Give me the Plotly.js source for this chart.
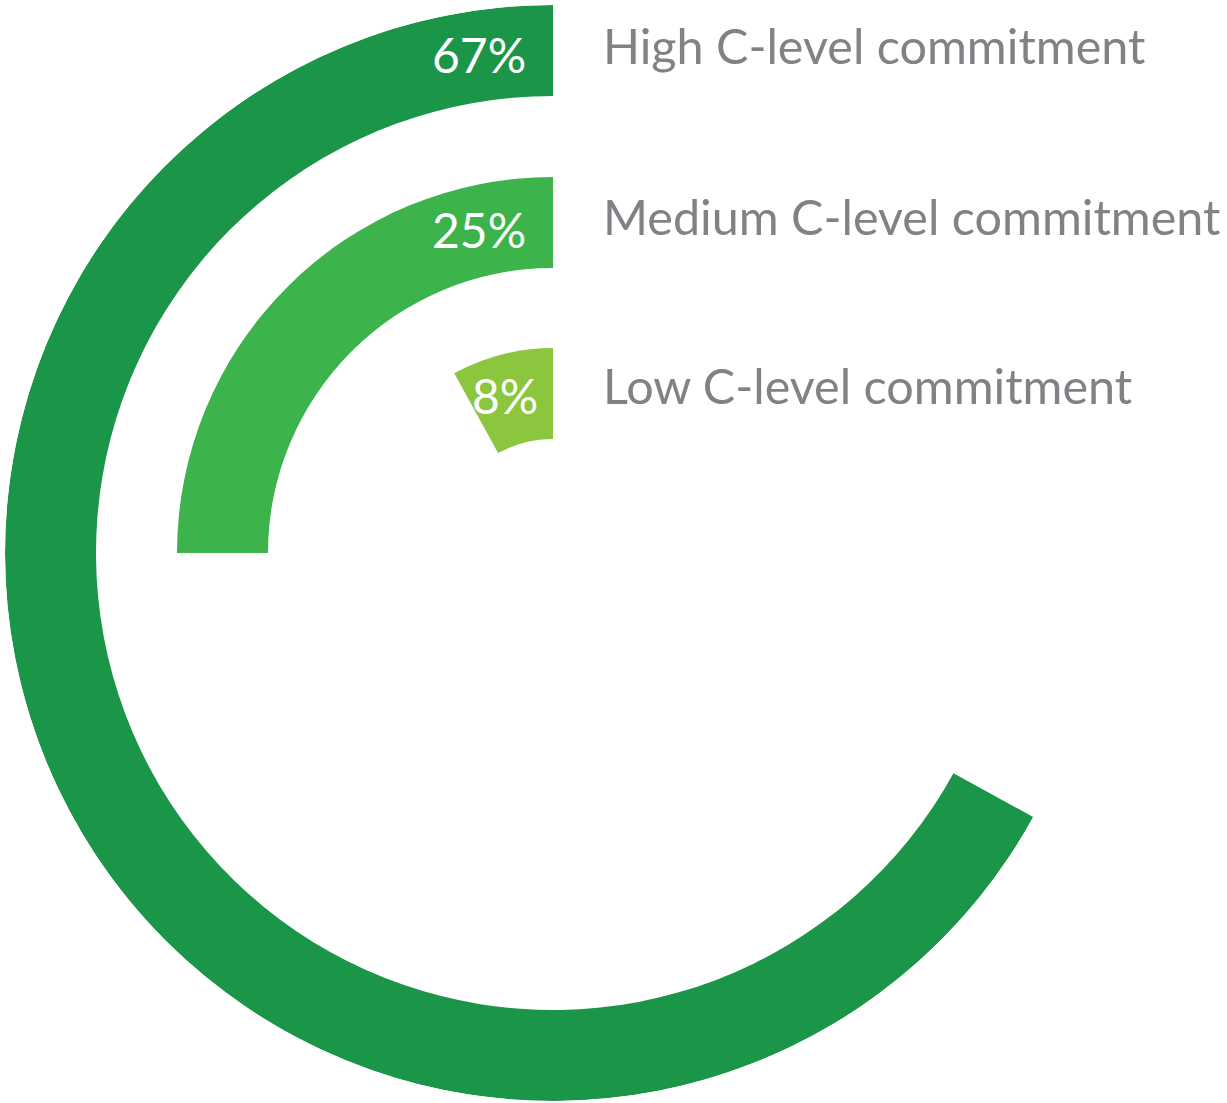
<!DOCTYPE html>
<html>
<head>
<meta charset="utf-8">
<script src="https://cdn.plot.ly/plotly-3.0.1.min.js"></script>
<style>html,body{margin:0;padding:0;background:#fff;}#chart{width:1227px;height:1103px;}</style>
</head>
<body>
<div id="chart"></div>
<script>
// Data
const categories = ["High C-level commitment", "Medium C-level commitment", "Low C-level commitment"];
const values = [67, 25, 8];
const valueLabels = ["67%", "25%", "8%"];
const colors = ["#1b9648", "#3cb44b", "#8cc63f"];

// Geometry (radial axis in px-like units)
const R = 548;
const ringBase = [457, 285, 114];
const ringThick = 91;
const degPerPct = 3.6;

const W = 1227, H = 1103;
const cx = 553, cy = 553;

const traces = categories.map((c, i) => ({
  type: 'barpolar',
  name: c,
  base: [ringBase[i]],
  r: [ringThick],
  theta: [values[i] * degPerPct / 2],
  width: [values[i] * degPerPct],
  marker: {color: colors[i], line: {width: 0}},
  hoverinfo: 'skip'
}));

const pctX = [528, 528, 540];
const pctY = [55, 230, 396];
const labY = [45, 216, 385];
const annotations = [];
categories.forEach((c, i) => {
  annotations.push({
    xref: 'paper', yref: 'paper', x: pctX[i] / W, y: 1 - pctY[i] / H,
    xanchor: 'right', yanchor: 'middle', showarrow: false,
    text: valueLabels[i],
    font: {family: 'Lato, "Open Sans", sans-serif', size: 48, color: '#ffffff'}
  });
  annotations.push({
    xref: 'paper', yref: 'paper', x: 601 / W, y: 1 - labY[i] / H,
    xanchor: 'left', yanchor: 'middle', showarrow: false,
    text: c,
    font: {family: 'Lato, "Open Sans", sans-serif', size: 48.5, color: '#808285'}
  });
});

const layout = {
  width: W, height: H,
  margin: {l: 0, r: 0, t: 0, b: 0},
  paper_bgcolor: '#ffffff',
  showlegend: false,
  polar: {
    domain: {x: [(cx - R) / W, (cx + R) / W], y: [1 - (cy + R) / H, 1 - (cy - R) / H]},
    bgcolor: 'rgba(0,0,0,0)',
    radialaxis: {range: [0, R], visible: false, showgrid: false},
    angularaxis: {rotation: 90, direction: 'counterclockwise', visible: false, showgrid: false}
  },
  annotations: annotations
};

Plotly.newPlot('chart', traces, layout, {staticPlot: true, displayModeBar: false});
</script>
</body>
</html>
